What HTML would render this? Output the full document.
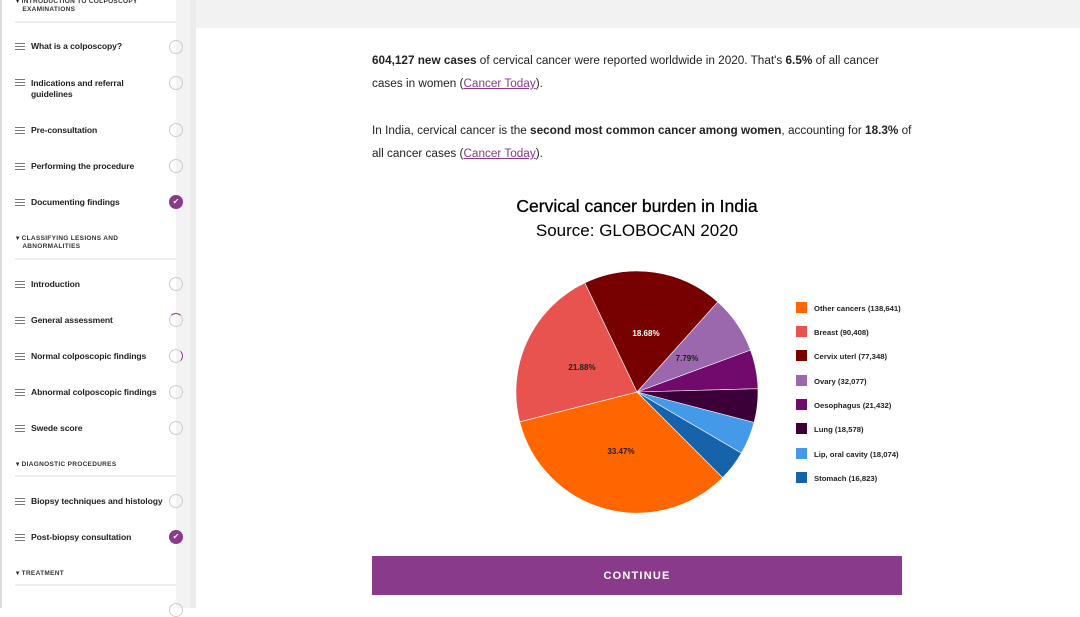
<!DOCTYPE html>
<html><head><meta charset="utf-8"><style>
*{margin:0;padding:0;box-sizing:border-box}
body{width:1080px;height:608px;overflow:hidden;background:#fff;font-family:"Liberation Sans",sans-serif;position:relative}
.sb{position:absolute;left:0;top:0;width:176px;height:608px;background:#fff;border-left:2px solid #ddd}
.track{position:absolute;left:176px;top:0;width:14px;height:608px;background:#f3f3f3}
.track2{position:absolute;left:190px;top:0;width:6px;height:608px;background:#ebebeb}
.topband{position:absolute;left:196px;top:0;width:884px;height:28px;background:#f2f2f2}
.it{position:absolute;left:31px;font-size:8.6px;font-weight:bold;color:#222;line-height:11px;width:137px;letter-spacing:-0.1px}
.ham{position:absolute;left:15px;width:10px;height:7px;border-top:1px solid #777;border-bottom:1px solid #777}
.ham:after{content:"";position:absolute;left:0;top:2px;width:10px;height:1px;background:#777}
.c{position:absolute;left:169px;width:14px;height:14px;border:1.5px solid #ccc;border-radius:50%}
.c.done{background:#8a3a8a;border-color:#8a3a8a;color:#fff;font-size:8px;text-align:center;line-height:11px}
.sec{position:absolute;left:16px;font-size:6.5px;font-weight:bold;color:#333;letter-spacing:.3px;line-height:8px}
.hr{position:absolute;left:15px;width:161px;height:2px;background:#eee}
.p{position:absolute;left:372px;font-size:11.75px;color:#222;line-height:23px;white-space:nowrap}
.p a{color:#8a3a8a}
.btn{position:absolute;left:372px;top:556px;width:530px;height:39px;background:#8a3a8a;color:#fff;font-size:11px;letter-spacing:1.2px;text-align:center;line-height:40px;font-weight:bold}
</style></head><body>
<div class="sb"></div><div class="track"></div><div class="track2"></div><div class="topband"></div>

<div class="sec" style="top:-2px">▾ INTRODUCTION TO COLPOSCOPY<br>&nbsp;&nbsp;&nbsp;EXAMINATIONS</div>
<div class="hr" style="top:21px"></div>
<div class="ham" style="top:43px"></div><div class="it" style="top:41px">What is a colposcopy?</div><div class="c" style="top:40px"></div>
<div class="ham" style="top:79px"></div><div class="it" style="top:78px;width:110px">Indications and referral guidelines</div><div class="c" style="top:76px"></div>
<div class="ham" style="top:127px"></div><div class="it" style="top:125px">Pre-consultation</div><div class="c" style="top:123px"></div>
<div class="ham" style="top:163px"></div><div class="it" style="top:161px">Performing the procedure</div><div class="c" style="top:159px"></div>
<div class="ham" style="top:199px"></div><div class="it" style="top:197px">Documenting findings</div><div class="c done" style="top:195px">✔</div>
<div class="sec" style="top:235px">▾ CLASSIFYING LESIONS AND<br>&nbsp;&nbsp;&nbsp;ABNORMALITIES</div>
<div class="hr" style="top:258px"></div>
<div class="ham" style="top:281px"></div><div class="it" style="top:279px">Introduction</div><div class="c" style="top:277px"></div>
<div class="ham" style="top:317px"></div><div class="it" style="top:315px">General assessment</div><div class="c" style="top:313px;border-top-color:#8a3a8a"></div>
<div class="ham" style="top:353px"></div><div class="it" style="top:351px">Normal colposcopic findings</div><div class="c" style="top:349px;border-right-color:#8a3a8a"></div>
<div class="ham" style="top:389px"></div><div class="it" style="top:387px">Abnormal colposcopic findings</div><div class="c" style="top:385px"></div>
<div class="ham" style="top:425px"></div><div class="it" style="top:423px">Swede score</div><div class="c" style="top:421px"></div>
<div class="sec" style="top:461px">▾ DIAGNOSTIC PROCEDURES</div>
<div class="hr" style="top:475px"></div>
<div class="ham" style="top:498px"></div><div class="it" style="top:496px;white-space:nowrap">Biopsy techniques and histology</div><div class="c" style="top:494px"></div>
<div class="ham" style="top:534px"></div><div class="it" style="top:532px">Post-biopsy consultation</div><div class="c done" style="top:530px">✔</div>
<div class="sec" style="top:570px">▾ TREATMENT</div>
<div class="hr" style="top:584px"></div>
<div class="c" style="top:603px"></div>

<div class="p" style="top:49px"><b>604,127 new cases</b> of cervical cancer were reported worldwide in 2020. That's <b>6.5%</b> of all cancer<br>cases in women (<a><u>Cancer Today</u></a>).</div>
<div class="p" style="top:119px">In India, cervical cancer is the <b>second most common cancer among women</b>, accounting for <b>18.3%</b> of<br>all cancer cases (<a><u>Cancer Today</u></a>).</div>

<svg style="position:absolute;left:0;top:0" width="1080" height="608">
<text x="637" y="212" text-anchor="middle" font-size="17.5" font-family="Liberation Sans" stroke="#000" stroke-width="0.3">Cervical cancer burden in India</text>
<text x="637" y="236" text-anchor="middle" font-size="17" font-family="Liberation Sans">Source: GLOBOCAN 2020</text>
<g stroke="#fff" stroke-width="0.6">
<path d="M637,392 L722.6,477.6 A121,121 0 0 1 519.7,421.8 Z" fill="#ff6600"/>
<path d="M637,392 L519.7,421.8 A121,121 0 0 1 584.8,282.8 Z" fill="#e8534f"/>
<path d="M637,392 L584.8,282.8 A121,121 0 0 1 717.8,301.9 Z" fill="#770000"/>
<path d="M637,392 L717.8,301.9 A121,121 0 0 1 750.5,350.1 Z" fill="#9b67ad"/>
<path d="M637,392 L750.5,350.1 A121,121 0 0 1 758.0,388.7 Z" fill="#720a6e"/>
<path d="M637,392 L758.0,388.7 A121,121 0 0 1 754.1,422.5 Z" fill="#3c0038"/>
<path d="M637,392 L754.1,422.5 A121,121 0 0 1 741.4,453.1 Z" fill="#4499e8"/>
<path d="M637,392 L741.4,453.1 A121,121 0 0 1 722.6,477.6 Z" fill="#1663ab"/>
</g>
<g font-size="8" font-weight="bold" font-family="Liberation Sans" text-anchor="middle">
<text x="621" y="454" fill="#222">33.47%</text>
<text x="582" y="370" fill="#222">21.88%</text>
<text x="646" y="336" fill="#fff">18.68%</text>
<text x="687" y="361" fill="#222">7.79%</text>
</g>
<g font-size="7.7" font-weight="bold" font-family="Liberation Sans" fill="#222">
<rect x="796" y="302" width="11" height="11" fill="#ff6600"/><text x="814" y="311">Other cancers (138,641)</text>
<rect x="796" y="326" width="11" height="11" fill="#e8534f"/><text x="814" y="335">Breast (90,408)</text>
<rect x="796" y="350" width="11" height="11" fill="#770000"/><text x="814" y="359">Cervix uterl (77,348)</text>
<rect x="796" y="375" width="11" height="11" fill="#9b67ad"/><text x="814" y="384">Ovary (32,077)</text>
<rect x="796" y="399" width="11" height="11" fill="#720a6e"/><text x="814" y="408">Oesophagus (21,432)</text>
<rect x="796" y="423" width="11" height="11" fill="#3c0038"/><text x="814" y="432">Lung (18,578)</text>
<rect x="796" y="448" width="11" height="11" fill="#4499e8"/><text x="814" y="457">Lip, oral cavity (18,074)</text>
<rect x="796" y="472" width="11" height="11" fill="#1663ab"/><text x="814" y="481">Stomach (16,823)</text>
</g>
</svg>
<div class="btn">CONTINUE</div>
</body></html>
